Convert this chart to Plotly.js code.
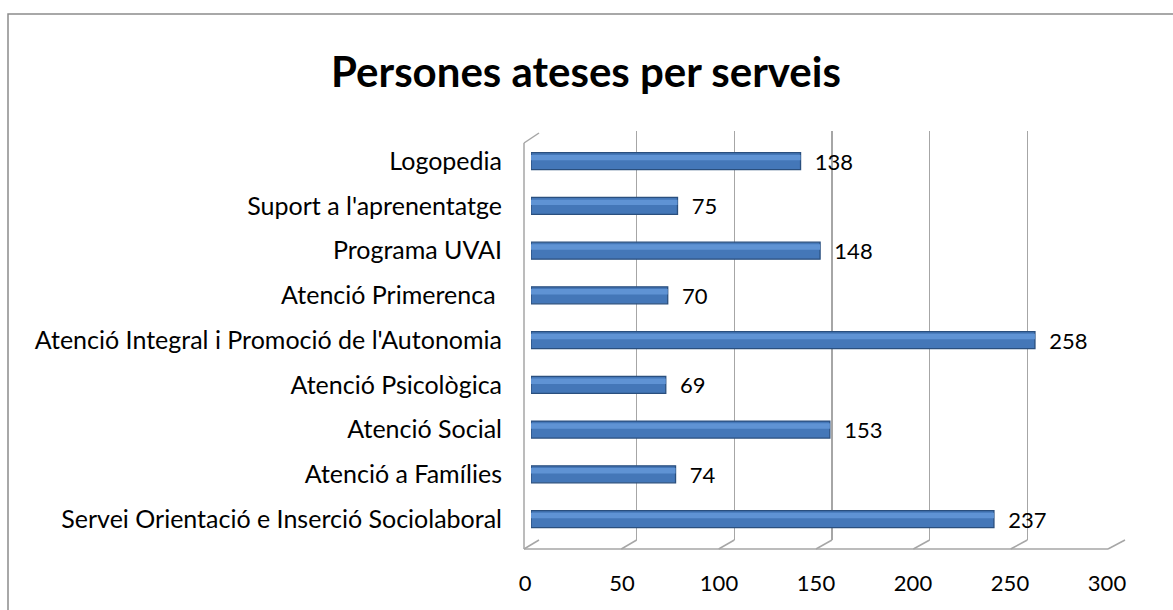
<!DOCTYPE html>
<html>
<head>
<meta charset="utf-8">
<script src="https://cdn.plot.ly/plotly-3.0.1.min.js"></script>
<style>
  html, body { margin: 0; padding: 0; background: #fff; }
  #chart { width: 1173px; height: 610px; }
</style>
</head>
<body>
<div id="chart"></div>
<script>
// ---- data ----
const categories = [
  "Servei Orientació e Inserció Sociolaboral",
  "Atenció a Famílies",
  "Atenció Social",
  "Atenció Psicològica",
  "Atenció Integral i Promoció de l'Autonomia",
  "Atenció Primerenca ",
  "Programa UVAI",
  "Suport a l'aprenentatge",
  "Logopedia"
];
const values = [237, 74, 153, 69, 258, 70, 148, 75, 138];
const xTicks = [0, 50, 100, 150, 200, 250, 300];
const chartTitle = "Persones ateses per serveis";

// ---- geometry (pixels in 1173x610) ----
const W = 1173, H = 610;
const px = v => v / W;
const py = v => (H - v) / H;
const FONT = "Lato, Carlito, Calibri, sans-serif";

const traces = [
  // invisible trace on grid subplot (back wall)
  { type: "scatter", x: values, y: categories, xaxis: "x", yaxis: "y",
    mode: "markers", marker: { opacity: 0 }, hoverinfo: "skip", showlegend: false },
  // bars (body)
  { type: "bar", orientation: "h", x: values, y: categories, xaxis: "x2", yaxis: "y2",
    width: 0.38,
    marker: { color: "#4477b8", line: { color: "#2a4f7e", width: 1.3 } },
    texttemplate: "\u00a0\u00a0%{x}", textposition: "outside", cliponaxis: false,
    constraintext: "none",
    textfont: { family: FONT, size: 22, color: "#000" },
    hoverinfo: "x+y", showlegend: false },
  // bars (highlight, same values)
  { type: "bar", orientation: "h", x: values, y: categories, xaxis: "x2", yaxis: "y2",
    width: 0.12, offset: 0.02,
    marker: { color: "#5f93d4", line: { width: 0 } },
    hoverinfo: "skip", showlegend: false },
  // invisible trace for front tick axis
  { type: "scatter", x: values, y: categories, xaxis: "x3", yaxis: "y2",
    mode: "markers", marker: { opacity: 0 }, hoverinfo: "skip", showlegend: false }
];

// decorative 3D frame (floor, left wall edge) derived from tick positions
const backL = 539, backR = 1125, frontL = 524, frontR = 1108, backBottom = 540, frontBottom = 549;
const shapes = [];
const lineStyle = { color: "#a6a6a6", width: 1.5 };
xTicks.forEach(t => {
  const f = (t - xTicks[0]) / (xTicks[xTicks.length - 1] - xTicks[0]);
  const xb = backL + f * (backR - backL);
  const xf = frontL + f * (frontR - frontL);
  shapes.push({ type: "line", xref: "paper", yref: "paper",
    x0: px(xb), y0: py(backBottom), x1: px(xf), y1: py(frontBottom), line: lineStyle });
});
shapes.push({ type: "line", xref: "paper", yref: "paper",
  x0: px(frontL), y0: py(frontBottom), x1: px(frontR), y1: py(frontBottom), line: lineStyle });
shapes.push({ type: "line", xref: "paper", yref: "paper",
  x0: px(frontL), y0: py(143), x1: px(frontL), y1: py(frontBottom), line: lineStyle });
shapes.push({ type: "line", xref: "paper", yref: "paper",
  x0: px(frontL), y0: py(143), x1: px(backL), y1: py(133), line: lineStyle });
// outer chart border
shapes.push({ type: "rect", xref: "paper", yref: "paper",
  x0: px(8), y0: py(700), x1: px(1240), y1: py(14),
  line: { color: "#8c8c8c", width: 1.5 }, fillcolor: "rgba(0,0,0,0)" });

const layout = {
  width: W, height: H,
  margin: { l: 0, r: 0, t: 0, b: 0, pad: 0 },
  paper_bgcolor: "#fff", plot_bgcolor: "rgba(0,0,0,0)",
  font: { family: FONT, size: 20, color: "#000" },
  barmode: "overlay",
  title: { text: "<b>" + chartTitle + "</b>", x: px(586), xanchor: "center",
    y: py(72), yanchor: "middle", font: { family: FONT, size: 42, color: "#000" } },
  showlegend: false,
  // back wall grid
  xaxis: { domain: [px(backL), px(backR)], range: [0, 300], tickvals: xTicks,
    showgrid: true, gridcolor: "#a6a6a6", gridwidth: 1.5, zeroline: false,
    showticklabels: false, ticks: "", showline: false, anchor: "y", fixedrange: true },
  yaxis: { domain: [py(backBottom), py(131)], type: "category", categoryarray: categories,
    range: [-0.5, 8.5], visible: false, fixedrange: true },
  // bars
  xaxis2: { domain: [px(531), px(1117)], range: [0, 300], showgrid: false, zeroline: false,
    showticklabels: false, ticks: "", anchor: "y2", fixedrange: true },
  yaxis2: { domain: [py(545), py(137)], type: "category", categoryarray: categories,
    range: [-0.58, 8.54], showgrid: false, zeroline: false, showline: false, ticks: "",
    anchor: "x2", ticklabelstandoff: 28, automargin: false,
    tickfont: { family: FONT, size: 25, color: "#000" }, fixedrange: true },
  // front tick labels
  xaxis3: { domain: [px(525), px(1107)], range: [0, 300], tickvals: xTicks,
    anchor: "free", position: py(568), showgrid: false, zeroline: false, showline: false,
    ticks: "", tickfont: { family: FONT, size: 22, color: "#000" }, fixedrange: true },
  shapes: shapes
};

Plotly.newPlot("chart", traces, layout, { displayModeBar: false, staticPlot: true });
</script>
</body>
</html>
